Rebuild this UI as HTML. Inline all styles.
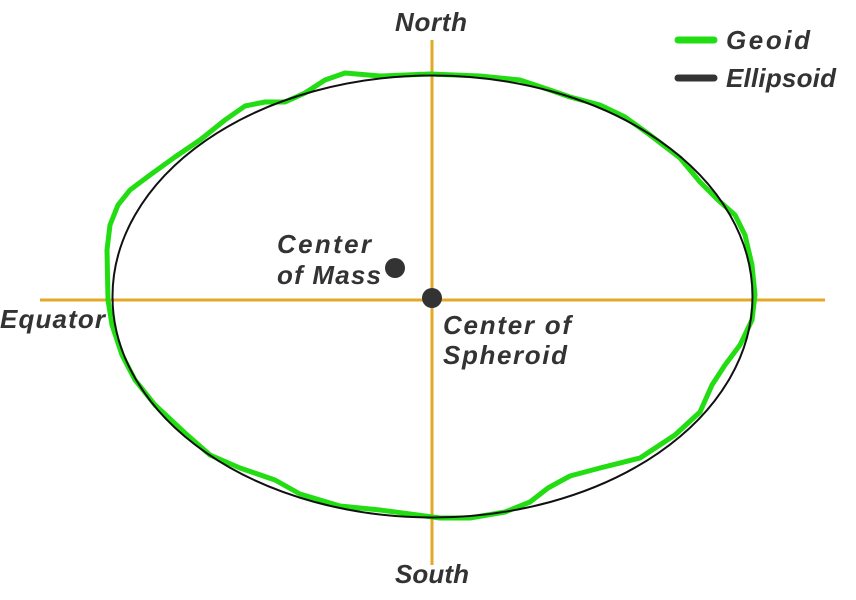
<!DOCTYPE html>
<html><head><style>
html,body{margin:0;padding:0;background:#fff;}
svg text{font-family:"Liberation Sans",sans-serif;font-weight:bold;font-style:italic;fill:#333;}
</style></head><body>
<svg width="856" height="595" viewBox="0 0 856 595" xmlns="http://www.w3.org/2000/svg">
<line x1="40" y1="300" x2="825" y2="300" stroke="#E3A826" stroke-width="3"/>
<line x1="432" y1="40" x2="432" y2="565" stroke="#E3A826" stroke-width="3"/>
<polyline fill="none" stroke="#22DD11" stroke-width="5" stroke-linejoin="round" stroke-linecap="round"
points="108,300 107,250 110,225 118,205 130,190 150,175 175,157 200,140 225,120 245,106 265,102 285,102 305,93 325,80 345,73 380,76 430,74 480,76 520,80 550,90 570,97 600,105 625,117 650,135 680,158 700,182 718,200 735,215 745,235 752,265 755,295 752,320 740,345 725,365 712,385 700,412 675,435 640,458 600,468 570,476 548,488 530,502 505,512 470,518 440,518 410,514 380,510 340,506 300,494 275,480 240,468 210,455 185,433 155,405 135,380 122,355 112,325 108,300"/>
<ellipse cx="432.5" cy="296.5" rx="320" ry="221" fill="none" stroke="#111" stroke-width="2"/>
<circle cx="432" cy="298" r="10" fill="#333"/>
<circle cx="395" cy="268" r="10" fill="#333"/>
<line x1="678" y1="40" x2="714" y2="40" stroke="#22DD11" stroke-width="7" stroke-linecap="round"/>
<line x1="678" y1="78" x2="714" y2="78" stroke="#333" stroke-width="7" stroke-linecap="round"/>
<text x="726" y="49" font-size="26" textLength="84">Geoid</text>
<text x="726" y="87" font-size="26" textLength="110">Ellipsoid</text>
<text x="395" y="31" font-size="26" textLength="72">North</text>
<text x="395" y="583" font-size="26" textLength="74">South</text>
<text x="0" y="328" font-size="26" textLength="105">Equator</text>
<text x="277" y="253" font-size="26" textLength="94">Center</text>
<text x="277" y="284" font-size="26" textLength="104">of Mass</text>
<text x="443" y="334" font-size="26" textLength="128">Center of</text>
<text x="443" y="364" font-size="26" textLength="124">Spheroid</text>
</svg>
</body></html>
